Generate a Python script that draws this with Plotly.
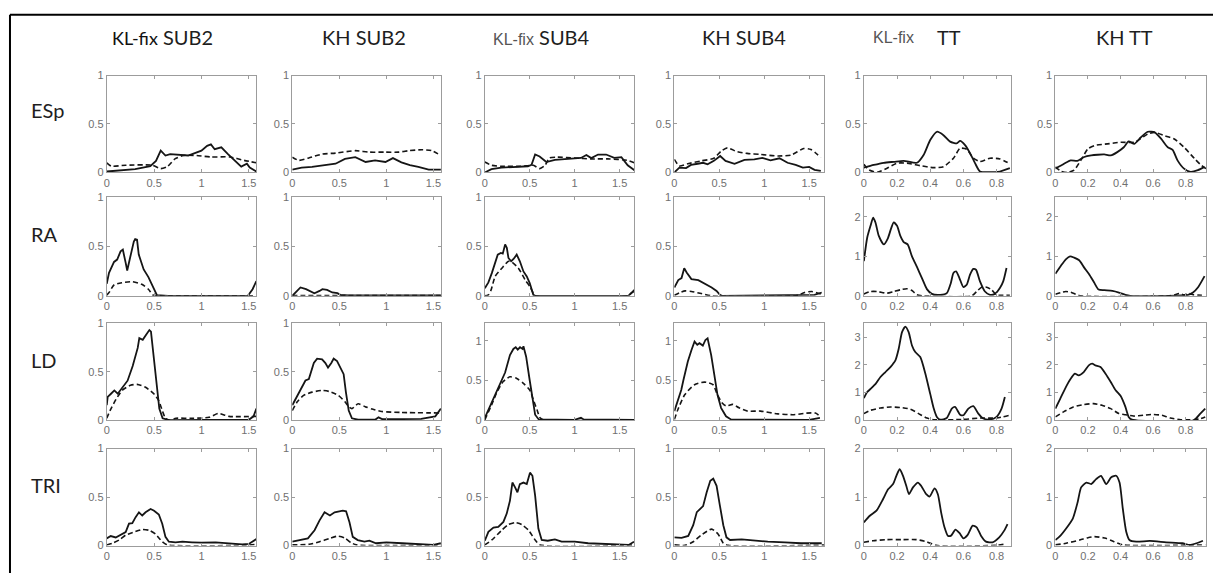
import plotly.graph_objects as go

W, H = 1213, 579

# ---------------- labels / axes ----------------
ROW_LABELS = ["ESp", "RA", "LD", "TRI"]
COL_TITLES = ["KL-fix SUB2", "KH SUB2", "KL-fix SUB4", "KH SUB4", "KL-fix TT", "KH TT"]
X_MAX = [1.58, 1.58, 1.665, 1.665, 0.89, 0.925]
X_TICKS_SUB = [0, 0.5, 1, 1.5]
X_TICKS_TT = [0, 0.2, 0.4, 0.6, 0.8]
Y_MAX = [[1, 1, 1, 1, 1, 1],
         [1, 1, 1, 1, 2.5, 2.5],
         [1, 1, 1.22, 1.22, 3.5, 3.5],
         [1, 1, 1, 1, 2, 2]]

# ---------------- data: (x, y) samples, solid (_S) and dashed (_D) ----------------
ESP_C1_S = [(0,0.01),(0.15,0.02),(0.3,0.035),(0.46,0.065),(0.52,0.12),(0.57,0.225),(0.62,0.175),(0.67,0.19),(0.76,0.185),(0.86,0.175),(0.93,0.2),(1.0,0.225),(1.06,0.275),(1.1,0.29),(1.14,0.24),(1.21,0.26),(1.28,0.19),(1.35,0.125),(1.42,0.06),(1.48,0.09),(1.51,0.05),(1.58,0.01)]
ESP_C1_D = [(0,0.1),(0.05,0.065),(0.2,0.075),(0.48,0.075),(0.57,0.04),(0.64,0.06),(0.72,0.14),(0.81,0.175),(0.95,0.175),(1.1,0.16),(1.3,0.16),(1.45,0.125),(1.58,0.1)]
ESP_C2_S = [(0,0.03),(0.1,0.05),(0.21,0.057),(0.32,0.074),(0.42,0.09),(0.46,0.09),(0.56,0.14),(0.67,0.158),(0.78,0.108),(0.88,0.125),(0.99,0.108),(1.07,0.148),(1.16,0.105),(1.25,0.075),(1.34,0.057),(1.45,0.03),(1.58,0.03)]
ESP_C2_D = [(0,0.158),(0.07,0.125),(0.175,0.15),(0.32,0.19),(0.46,0.2),(0.67,0.225),(0.81,0.21),(0.99,0.21),(1.13,0.21),(1.24,0.225),(1.38,0.235),(1.48,0.225),(1.58,0.175)]
ESP_C3_S = [(0,0),(0.074,0.034),(0.185,0.05),(0.33,0.057),(0.48,0.064),(0.52,0.08),(0.56,0.185),(0.61,0.165),(0.685,0.108),(0.78,0.13),(0.89,0.14),(1.0,0.15),(1.07,0.15),(1.13,0.18),(1.185,0.148),(1.26,0.185),(1.35,0.185),(1.44,0.15),(1.52,0.158),(1.59,0.074),(1.665,0.024)]
ESP_C3_D = [(0,0.108),(0.074,0.074),(0.185,0.064),(0.41,0.064),(0.54,0.074),(0.61,0.04),(0.67,0.074),(0.72,0.15),(0.81,0.158),(1.0,0.15),(1.185,0.14),(1.37,0.14),(1.59,0.125),(1.665,0.1)]
ESP_C4_S = [(0,0),(0.056,0.05),(0.13,0.045),(0.185,0.078),(0.26,0.09),(0.32,0.1),(0.37,0.085),(0.44,0.12),(0.51,0.17),(0.57,0.12),(0.67,0.09),(0.78,0.13),(0.89,0.135),(0.98,0.15),(1.07,0.125),(1.17,0.146),(1.26,0.1),(1.35,0.078),(1.43,0.05),(1.5,0.058),(1.56,0.027),(1.63,0.017)]
ESP_C4_D = [(0,0.135),(0.056,0.068),(0.15,0.09),(0.3,0.12),(0.44,0.146),(0.52,0.22),(0.59,0.254),(0.7,0.214),(0.81,0.197),(0.96,0.186),(1.15,0.17),(1.3,0.18),(1.44,0.247),(1.52,0.237),(1.63,0.153)]
ESP_C5_S = [(0,0.05),(0.06,0.078),(0.12,0.1),(0.18,0.11),(0.24,0.12),(0.32,0.1),(0.36,0.18),(0.4,0.335),(0.44,0.42),(0.48,0.385),(0.52,0.318),(0.56,0.3),(0.58,0.325),(0.61,0.283),(0.64,0.2),(0.67,0.096),(0.7,0.01),(0.76,0.003),(0.82,0.01),(0.88,0.044)]
ESP_C5_D = [(0,0.085),(0.03,0.027),(0.08,0.003),(0.14,0.044),(0.2,0.096),(0.26,0.096),(0.34,0.07),(0.42,0.05),(0.48,0.06),(0.54,0.147),(0.58,0.25),(0.62,0.24),(0.66,0.147),(0.7,0.113),(0.76,0.147),(0.82,0.14),(0.88,0.09)]
ESP_C6_S = [(0,0.04),(0.053,0.09),(0.094,0.125),(0.135,0.12),(0.177,0.16),(0.22,0.176),(0.26,0.183),(0.3,0.186),(0.34,0.176),(0.38,0.21),(0.42,0.26),(0.45,0.32),(0.485,0.295),(0.525,0.363),(0.567,0.42),(0.61,0.414),(0.65,0.346),(0.69,0.26),(0.72,0.234),(0.75,0.125),(0.79,0.04),(0.83,0.007),(0.875,0.024),(0.916,0.058)]
ESP_C6_D = [(0,0.058),(0.033,0.014),(0.074,0),(0.115,0.024),(0.156,0.125),(0.2,0.244),(0.24,0.278),(0.32,0.295),(0.4,0.312),(0.485,0.312),(0.567,0.397),(0.61,0.414),(0.67,0.38),(0.73,0.346),(0.79,0.26),(0.855,0.142),(0.895,0.075),(0.925,0.04)]

RA_C1_S = [(0,0.123),(0.024,0.233),(0.077,0.343),(0.11,0.367),(0.146,0.45),(0.17,0.467),(0.2,0.333),(0.216,0.257),(0.25,0.4),(0.286,0.55),(0.3,0.573),(0.32,0.567),(0.338,0.417),(0.39,0.267),(0.44,0.19),(0.495,0.083),(0.53,0.007),(0.65,0),(1.49,0),(1.54,0.067),(1.58,0.15)]
RA_C1_D = [(0,0.007),(0.024,0.033),(0.077,0.11),(0.16,0.133),(0.27,0.143),(0.37,0.117),(0.44,0.067),(0.49,0.007),(0.55,0),(1.58,0)]
RA_C2_S = [(0,0),(0.04,0.044),(0.087,0.085),(0.146,0.068),(0.235,0.027),(0.29,0.05),(0.32,0.068),(0.37,0.06),(0.425,0.034),(0.48,0.027),(0.51,0.01),(0.6,0.005),(1.58,0.005)]
RA_C2_D = [(0,0.003),(0.8,0.003),(1.58,0.003)]
RA_C3_S = [(0,0.078),(0.04,0.136),(0.078,0.23),(0.115,0.34),(0.144,0.417),(0.178,0.434),(0.2,0.427),(0.226,0.52),(0.245,0.485),(0.263,0.383),(0.293,0.35),(0.32,0.373),(0.355,0.417),(0.39,0.35),(0.43,0.247),(0.467,0.197),(0.5,0.129),(0.54,0.01),(0.56,0),(1.6,0.003),(1.665,0.06)]
RA_C3_D = [(0,0),(0.04,0.01),(0.07,0.06),(0.115,0.197),(0.19,0.28),(0.263,0.35),(0.3,0.342),(0.374,0.28),(0.448,0.163),(0.5,0.095),(0.54,0.027),(0.56,0),(1.6,0),(1.63,0.027),(1.665,0.044)]
RA_C4_S = [(0,0.085),(0.044,0.16),(0.08,0.18),(0.11,0.28),(0.137,0.236),(0.19,0.169),(0.267,0.159),(0.34,0.125),(0.415,0.085),(0.47,0.05),(0.507,0.01),(0.53,0),(1.41,0.003),(1.56,0.01),(1.64,0.034)]
RA_C4_D = [(0,0.007),(0.063,0.034),(0.12,0.05),(0.19,0.044),(0.3,0.024),(0.415,0),(1.35,0),(1.38,0.007),(1.45,0.034),(1.53,0.044),(1.64,0.017)]
RA_C5_S = [(0,0.877),(0.02,1.47),(0.04,1.77),(0.056,1.98),(0.07,1.855),(0.09,1.515),(0.12,1.3),(0.144,1.447),(0.164,1.7),(0.18,1.855),(0.2,1.77),(0.22,1.515),(0.24,1.36),(0.264,1.3),(0.29,1.0),(0.32,0.73),(0.35,0.45),(0.38,0.17),(0.41,0.05),(0.46,0.026),(0.5,0.068),(0.524,0.32),(0.54,0.58),(0.556,0.62),(0.576,0.45),(0.6,0.22),(0.62,0.28),(0.64,0.536),(0.66,0.68),(0.676,0.66),(0.7,0.366),(0.73,0.11),(0.76,0.026),(0.79,0.05),(0.82,0.196),(0.84,0.366),(0.86,0.706)]
RA_C5_D = [(0,0.05),(0.04,0.11),(0.08,0.11),(0.14,0.068),(0.18,0.11),(0.22,0.153),(0.26,0.18),(0.29,0.136),(0.32,0.026),(0.36,0),(0.65,0),(0.68,0.11),(0.71,0.22),(0.74,0.22),(0.77,0.153),(0.8,0.026),(0.88,0.017)]
RA_C6_S = [(0,0.56),(0.033,0.756),(0.064,0.924),(0.09,1.0),(0.115,0.966),(0.146,0.9),(0.177,0.714),(0.207,0.546),(0.238,0.336),(0.265,0.16),(0.3,0.143),(0.35,0.126),(0.39,0.084),(0.43,0.025),(0.46,0),(0.69,0),(0.77,0.01),(0.81,0.017),(0.845,0.084),(0.875,0.21),(0.916,0.5)]
RA_C6_D = [(0,0.04),(0.033,0.084),(0.064,0.11),(0.094,0.092),(0.125,0.042),(0.156,0),(0.7,0),(0.73,0.025),(0.76,0.06),(0.79,0.025),(0.82,0.06),(0.85,0.025),(0.92,0.01)]

LD_C1_S = [(0,0.155),(0.01,0.24),(0.045,0.273),(0.08,0.307),(0.116,0.273),(0.168,0.34),(0.22,0.408),(0.274,0.56),(0.327,0.746),(0.344,0.847),(0.38,0.83),(0.414,0.88),(0.45,0.93),(0.467,0.914),(0.5,0.627),(0.537,0.29),(0.555,0.12),(0.59,0.02),(0.66,0),(1.5,0.005),(1.55,0.04),(1.58,0.12)]
LD_C1_D = [(0,0.02),(0.035,0.1),(0.1,0.22),(0.165,0.31),(0.25,0.36),(0.32,0.37),(0.41,0.34),(0.5,0.27),(0.55,0.2),(0.59,0.09),(0.62,0.02),(0.66,0),(0.73,0.02),(0.9,0.02),(1.08,0.03),(1.18,0.07),(1.29,0.04),(1.58,0.04)]
LD_C2_S = [(0,0.155),(0.035,0.22),(0.07,0.27),(0.106,0.34),(0.14,0.41),(0.176,0.425),(0.204,0.51),(0.229,0.59),(0.264,0.635),(0.317,0.627),(0.352,0.59),(0.38,0.543),(0.415,0.59),(0.44,0.635),(0.476,0.61),(0.51,0.543),(0.546,0.475),(0.57,0.29),(0.59,0.155),(0.6,0.1),(0.634,0.02),(0.7,0.005),(0.88,0.005),(0.917,0.03),(0.96,0.01),(1.37,0.015),(1.52,0.04),(1.58,0.12)]
LD_C2_D = [(0,0.1),(0.053,0.19),(0.12,0.256),(0.21,0.29),(0.317,0.307),(0.39,0.297),(0.49,0.256),(0.56,0.19),(0.6,0.14),(0.634,0.12),(0.7,0.17),(0.775,0.14),(0.85,0.115),(0.95,0.09),(1.16,0.08),(1.58,0.075)]
LD_C3_S = [(0,0.03),(0.06,0.18),(0.115,0.33),(0.17,0.45),(0.226,0.6),(0.28,0.82),(0.318,0.897),(0.344,0.918),(0.366,0.888),(0.392,0.918),(0.42,0.897),(0.43,0.93),(0.46,0.8),(0.5,0.5),(0.53,0.25),(0.56,0.07),(0.6,0.01),(1.0,0.005),(1.04,0.02),(1.07,0.03),(1.1,0.01),(1.667,0.005)]
LD_C3_D = [(0,0.005),(0.078,0.2),(0.13,0.34),(0.2,0.48),(0.28,0.547),(0.355,0.526),(0.43,0.464),(0.5,0.38),(0.54,0.257),(0.58,0.134),(0.615,0.03),(0.65,0.005),(1.667,0.005)]
LD_C4_S = [(0,0.115),(0.04,0.26),(0.077,0.38),(0.1,0.5),(0.15,0.74),(0.19,0.88),(0.225,0.99),(0.255,0.95),(0.28,0.97),(0.317,0.94),(0.346,1.01),(0.37,1.03),(0.41,0.82),(0.445,0.57),(0.48,0.32),(0.52,0.156),(0.575,0.05),(0.63,0.01),(1.5,0.005),(1.62,0.03)]
LD_C4_D = [(0,0.01),(0.04,0.135),(0.115,0.32),(0.225,0.447),(0.335,0.48),(0.43,0.447),(0.48,0.32),(0.53,0.22),(0.575,0.18),(0.65,0.2),(0.72,0.156),(0.815,0.115),(0.96,0.115),(1.15,0.08),(1.33,0.07),(1.47,0.09),(1.57,0.09),(1.62,0.05)]
LD_C5_S = [(0,0.8),(0.02,1.02),(0.042,1.14),(0.072,1.32),(0.1,1.56),(0.13,1.74),(0.16,1.92),(0.19,2.16),(0.21,2.58),(0.23,3.18),(0.25,3.38),(0.27,3.18),(0.29,2.7),(0.31,2.46),(0.34,2.28),(0.37,1.7),(0.4,0.95),(0.42,0.45),(0.44,0.12),(0.46,0.02),(0.5,0.08),(0.53,0.42),(0.55,0.48),(0.58,0.2),(0.6,0.18),(0.63,0.42),(0.66,0.51),(0.69,0.24),(0.72,0.06),(0.76,0.02),(0.8,0.12),(0.83,0.42),(0.85,0.84)]
LD_C5_D = [(0,0.24),(0.04,0.36),(0.1,0.44),(0.16,0.48),(0.22,0.46),(0.28,0.4),(0.33,0.24),(0.38,0.08),(0.42,0.02),(0.6,0.03),(0.7,0.08),(0.8,0.08),(0.88,0.18)]
LD_C6_S = [(0,0.42),(0.03,0.78),(0.07,1.26),(0.1,1.55),(0.12,1.68),(0.143,1.62),(0.174,1.74),(0.205,1.98),(0.226,2.04),(0.246,1.98),(0.277,1.92),(0.308,1.68),(0.34,1.38),(0.37,1.08),(0.4,0.88),(0.43,0.48),(0.45,0.12),(0.47,0.02),(0.85,0),(0.89,0.24),(0.92,0.42)]
LD_C6_D = [(0,0.12),(0.05,0.3),(0.11,0.48),(0.17,0.56),(0.235,0.6),(0.286,0.54),(0.34,0.42),(0.39,0.24),(0.43,0.2),(0.48,0.15),(0.54,0.18),(0.6,0.21),(0.655,0.18),(0.705,0.08),(0.77,0.02),(0.85,0.02),(0.89,0.05),(0.92,0.12)]

TRI_C1_S = [(0,0.074),(0.042,0.098),(0.095,0.084),(0.147,0.108),(0.2,0.14),(0.235,0.226),(0.27,0.232),(0.305,0.293),(0.34,0.343),(0.375,0.31),(0.41,0.343),(0.463,0.377),(0.5,0.36),(0.55,0.32),(0.586,0.226),(0.62,0.09),(0.656,0.04),(0.726,0.034),(0.8,0.04),(0.9,0.034),(1.0,0.03),(1.15,0.034),(1.29,0.024),(1.43,0.013),(1.5,0.017),(1.58,0.067)]
TRI_C1_D = [(0,0.007),(0.06,0.024),(0.13,0.057),(0.2,0.108),(0.29,0.14),(0.375,0.165),(0.446,0.158),(0.516,0.118),(0.586,0.04),(0.64,0.007),(1.5,0.005),(1.58,0.013)]
TRI_C2_S = [(0,0.04),(0.078,0.057),(0.166,0.074),(0.237,0.158),(0.29,0.26),(0.343,0.343),(0.378,0.327),(0.4,0.31),(0.45,0.343),(0.537,0.36),(0.572,0.354),(0.608,0.24),(0.643,0.09),(0.696,0.057),(0.767,0.04),(0.82,0.05),(0.89,0.024),(1.0,0.034),(1.17,0.024),(1.34,0.013),(1.5,0.007),(1.58,0.024)]
TRI_C2_D = [(0,0.007),(0.18,0.013),(0.29,0.04),(0.4,0.074),(0.484,0.098),(0.555,0.08),(0.625,0.03),(0.68,0.007),(1.58,0.005)]
TRI_C3_S = [(0,0.05),(0.04,0.142),(0.096,0.186),(0.15,0.193),(0.207,0.244),(0.244,0.33),(0.28,0.464),(0.307,0.65),(0.337,0.6),(0.363,0.55),(0.39,0.634),(0.43,0.65),(0.467,0.634),(0.503,0.752),(0.53,0.72),(0.56,0.515),(0.596,0.176),(0.633,0.058),(0.7,0.05),(0.78,0.064),(0.855,0.04),(1.0,0.04),(1.15,0.024),(1.37,0.013),(1.6,0.007),(1.66,0.04)]
TRI_C3_D = [(0,0.007),(0.078,0.058),(0.19,0.16),(0.263,0.217),(0.337,0.237),(0.41,0.217),(0.485,0.16),(0.56,0.058),(0.615,0.007),(1.667,0.005)]
TRI_C4_S = [(0,0.085),(0.08,0.08),(0.155,0.1),(0.21,0.21),(0.25,0.345),(0.285,0.373),(0.32,0.407),(0.36,0.55),(0.4,0.668),(0.433,0.69),(0.47,0.617),(0.507,0.413),(0.545,0.21),(0.58,0.085),(0.62,0.058),(0.75,0.064),(0.9,0.05),(1.04,0.04),(1.23,0.034),(1.41,0.024),(1.64,0.024)]
TRI_C4_D = [(0,0.007),(0.12,0.002),(0.21,0.04),(0.3,0.108),(0.415,0.17),(0.49,0.115),(0.545,0.024),(0.6,0.002),(1.667,0.005)]
TRI_C5_S = [(0,0.48),(0.036,0.616),(0.076,0.72),(0.116,0.96),(0.146,1.16),(0.176,1.27),(0.196,1.44),(0.216,1.575),(0.236,1.44),(0.256,1.23),(0.272,1.06),(0.296,1.2),(0.326,1.3),(0.346,1.23),(0.376,1.06),(0.396,1.01),(0.426,1.18),(0.446,1.06),(0.466,0.68),(0.486,0.377),(0.506,0.205),(0.526,0.205),(0.552,0.33),(0.576,0.26),(0.6,0.15),(0.626,0.22),(0.656,0.41),(0.68,0.377),(0.706,0.205),(0.736,0.082),(0.776,0.068),(0.816,0.17),(0.846,0.308),(0.866,0.445)]
TRI_C5_D = [(0,0.068),(0.056,0.1),(0.136,0.123),(0.236,0.123),(0.316,0.123),(0.376,0.082),(0.436,0.005),(0.8,0.005),(0.856,0.034)]
TRI_C6_S = [(0,0.116),(0.025,0.184),(0.066,0.354),(0.107,0.558),(0.137,0.9),(0.158,1.2),(0.19,1.3),(0.22,1.27),(0.25,1.37),(0.28,1.44),(0.312,1.27),(0.343,1.41),(0.373,1.44),(0.394,1.3),(0.414,0.76),(0.435,0.286),(0.455,0.116),(0.497,0.08),(0.58,0.095),(0.68,0.068),(0.78,0.048),(0.825,0.014),(0.866,0.048),(0.906,0.1)]
TRI_C6_D = [(0,0.014),(0.066,0.048),(0.15,0.116),(0.2,0.163),(0.24,0.184),(0.31,0.15),(0.36,0.08),(0.414,0.014),(0.92,0.014)]

PANELS = [
    [(ESP_C1_S, ESP_C1_D), (ESP_C2_S, ESP_C2_D), (ESP_C3_S, ESP_C3_D), (ESP_C4_S, ESP_C4_D), (ESP_C5_S, ESP_C5_D), (ESP_C6_S, ESP_C6_D)],
    [(RA_C1_S, RA_C1_D), (RA_C2_S, RA_C2_D), (RA_C3_S, RA_C3_D), (RA_C4_S, RA_C4_D), (RA_C5_S, RA_C5_D), (RA_C6_S, RA_C6_D)],
    [(LD_C1_S, LD_C1_D), (LD_C2_S, LD_C2_D), (LD_C3_S, LD_C3_D), (LD_C4_S, LD_C4_D), (LD_C5_S, LD_C5_D), (LD_C6_S, LD_C6_D)],
    [(TRI_C1_S, TRI_C1_D), (TRI_C2_S, TRI_C2_D), (TRI_C3_S, TRI_C3_D), (TRI_C4_S, TRI_C4_D), (TRI_C5_S, TRI_C5_D), (TRI_C6_S, TRI_C6_D)],
]

# ---------------- layout geometry (pixels) ----------------
COL_PX = [(104, 254), (290, 439), (483, 633), (673, 823), (863, 1011), (1055, 1206)]
ROW_PX = [(71, 170), (195, 296), (324, 423), (452, 551)]


def fx(px):
    return px / W


def fy(py):
    return 1 - py / H


def fmt(v):
    return f"{v:g}"


def y_ticks(ymax):
    if ymax <= 1.3:
        return [0, 0.5, 1]
    return [v for v in range(0, int(ymax) + 1)]


AX_COLOR = "#9c9c9c"
TICK_FONT = dict(family="Liberation Sans, Arial", size=11, color="#707070")
LINE_COLOR = "#151515"

fig = go.Figure()
layout = {}

for r in range(4):
    for c in range(6):
        n = r * 6 + c + 1
        xs = "" if n == 1 else str(n)
        tt = c >= 4
        solid, dashed = PANELS[r][c]
        fig.add_trace(go.Scatter(
            x=[p[0] for p in solid], y=[p[1] for p in solid], mode="lines",
            line=dict(color=LINE_COLOR, width=1.8, shape="spline" if tt else "linear", smoothing=0.6),
            xaxis="x" + xs, yaxis="y" + xs, showlegend=False, hoverinfo="skip"))
        fig.add_trace(go.Scatter(
            x=[p[0] for p in dashed], y=[p[1] for p in dashed], mode="lines",
            line=dict(color=LINE_COLOR, width=1.6, dash="5px,3px", shape="spline", smoothing=0.6),
            xaxis="x" + xs, yaxis="y" + xs, showlegend=False, hoverinfo="skip"))

        xt = X_TICKS_TT if tt else X_TICKS_SUB
        ymax = Y_MAX[r][c]
        yt = y_ticks(ymax)
        common = dict(showline=True, mirror="ticks", linecolor=AX_COLOR, linewidth=1,
                      ticks="inside", ticklen=3, tickcolor=AX_COLOR, tickwidth=1,
                      showgrid=False, zeroline=False, tickfont=TICK_FONT, fixedrange=True)
        layout["xaxis" + xs] = dict(
            domain=[fx(COL_PX[c][0]), fx(COL_PX[c][1])], range=[0, X_MAX[c]],
            tickvals=xt, ticktext=[fmt(v) for v in xt], anchor="y" + xs, **common)
        layout["yaxis" + xs] = dict(
            domain=[fy(ROW_PX[r][1]), fy(ROW_PX[r][0])], range=[0, ymax],
            tickvals=yt, ticktext=[fmt(v) for v in yt], anchor="x" + xs, **common)

TITLE_FONT = dict(family="Lato, Open Sans, sans-serif", size=20, color="#1e1e1e")
annotations = []
title_specs = [
    (160, '<span style="font-size:18px;color:#111">KL-fix</span> SUB2'),
    (362, 'KH SUB2'),
    (540, '<span style="font-family:Liberation Sans, Arial;font-size:16px;color:#555">KL-fix</span> SUB4'),
    (743, 'KH SUB4'),
    (893, '<span style="font-family:Liberation Sans, Arial;font-size:16px;color:#555">KL-fix</span>'),
    (948, 'TT'),
    (1124, 'KH TT'),
]
for cx, txt in title_specs:
    annotations.append(dict(x=fx(cx), y=fy(32), xref="paper", yref="paper", text=txt,
                            showarrow=False, xanchor="center", yanchor="middle", font=TITLE_FONT))

ROW_Y = [106, 233, 361, 489]
for lbl, ry in zip(ROW_LABELS, ROW_Y):
    annotations.append(dict(x=fx(26), y=fy(ry), xref="paper", yref="paper", text=lbl,
                            showarrow=False, xanchor="left", yanchor="middle", font=TITLE_FONT))

BORDER = dict(color="black", width=2)
layout.update(
    width=W, height=H, margin=dict(l=0, r=0, t=0, b=0),
    paper_bgcolor="white", plot_bgcolor="white",
    annotations=annotations,
    shapes=[
        dict(type="line", xref="paper", yref="paper", x0=fx(7), x1=1, y0=fy(9), y1=fy(9), line=BORDER),
        dict(type="line", xref="paper", yref="paper", x0=fx(7), x1=fx(7), y0=0, y1=fy(9), line=BORDER),
    ],
)
fig.update_layout(**layout)
fig.write_html(
    "out.html",
    config={"displayModeBar": False},
    post_script=(
        "document.documentElement.style.margin='0';"
        "document.body.style.margin='0';document.body.style.padding='0';"
        "document.body.style.overflow='hidden';"
        "var gd=document.getElementById('{plot_id}');"
        "gd.style.position='fixed';gd.style.left='0px';gd.style.top='0px';"
    ),
)
